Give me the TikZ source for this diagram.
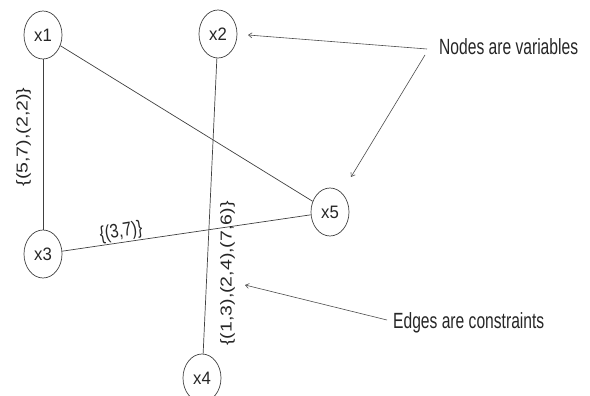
\documentclass[tikz,border=0pt]{standalone}
\usepackage{fontspec}
\setmainfont{Liberation Sans}
\usepackage{graphicx}
\usetikzlibrary{shapes.geometric,arrows.meta}

% horizontally condensed text: \condx{factor}{text}
\newcommand{\condx}[2]{\scalebox{#1}[1]{#2}}
% text condensed across its height (for labels set sideways)
\newcommand{\condy}[2]{\scalebox{1}[#1]{#2}}

\begin{document}
\begin{tikzpicture}[x=1pt,y=-1pt,
  var/.style={ellipse,draw=black!75,line width=0.7pt,minimum width=38pt,
    minimum height=48pt,inner sep=0pt,text=black!85,
    font=\fontsize{18}{18}\selectfont},
  edge/.style={draw=black!75,line width=0.7pt},
  ann/.style={inner sep=0pt,anchor=west,text=black!85,
    font=\fontsize{22}{22}\selectfont},
  lbl/.style={inner sep=0pt,text=black!85,
    font=\fontsize{19.5}{19.5}\selectfont},
  pointer/.style={draw=black!70,line width=0.6pt,
    -{Straight Barb[length=3.5pt,width=5pt]}}]

  \useasboundingbox (0,0) rectangle (590,396);

  % variables
  \node[var] (x1) at (43,35)  {\condx{0.93}{x1}};
  \node[var] (x2) at (218,34) {\condx{0.93}{x2}};
  \node[var] (x3) at (43,254) {\condx{0.93}{x3}};
  \node[var] (x4) at (202,378) {\condx{0.93}{x4}};
  \node[var] (x5) at (330,212) {\condx{0.93}{x5}};

  % constraints
  \draw[edge] (x1) -- (x3);
  \draw[edge] (x1) -- (x5);
  \draw[edge] (x2) -- (x4);
  \draw[edge] (x3) -- (x5);

  % allowed value pairs of each constraint
  \node[lbl,rotate=90] (l13) at (23.5,137) {\condy{0.81}{\{(5,7),(2,2)\}}};
  \node[lbl,rotate=9] (l35) at (121,232) {\condx{0.81}{\{(3,7)\}}};
  \node[lbl,rotate=90] (l24) at (227.5,273.5) {\condy{0.81}{\{(1,3),(2,4),(7,6)\}}};

  % annotations
  \node[ann] (nv) at (439,47) {\condx{0.71}{Nodes are variables}};
  \node[ann] (ec) at (393,323) {\condx{0.71}{Edges are constraints}};

  \coordinate (ta) at (248,35);
  \coordinate (tb) at (351,177);
  \coordinate (tc) at (245,285);
  \coordinate (sa) at (427,49);
  \coordinate (sb) at (425,55);
  \coordinate (sc) at (387,320);

  \draw[pointer] (sa) -- (ta);
  \draw[pointer] (sb) -- (tb);
  \draw[pointer] (sc) -- (tc);
\end{tikzpicture}
\end{document}
